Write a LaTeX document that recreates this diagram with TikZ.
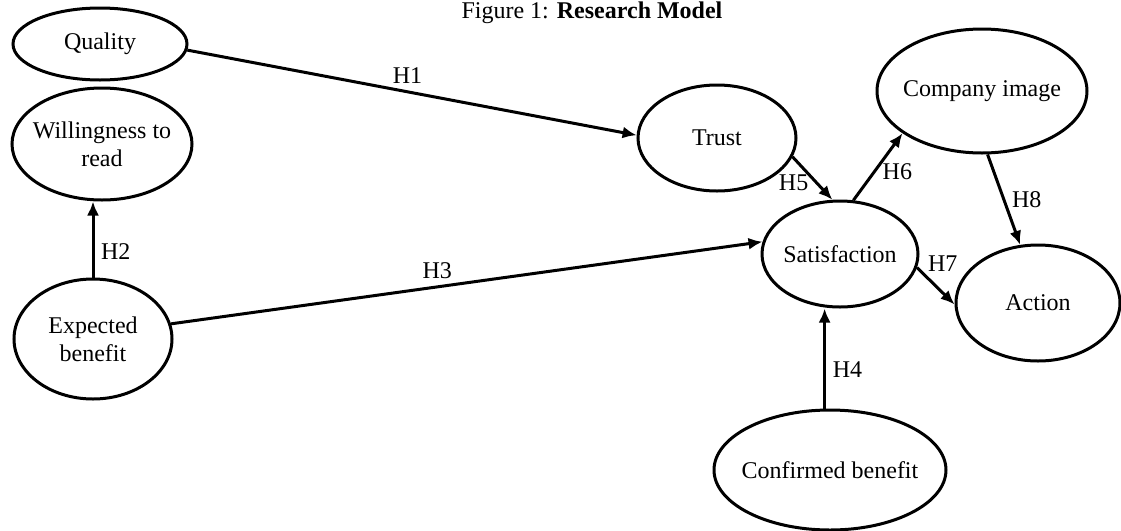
\documentclass[tikz,border=0pt]{standalone}
\usepackage{fontspec}
\setmainfont{Liberation Serif}
\usetikzlibrary{arrows.meta,shapes}
\tikzstyle{every node}=[font=\fontsize{12}{14}\selectfont]
\tikzstyle{construct}=[ellipse,draw,line width=1.5pt,inner sep=0pt,align=center]

\begin{document}
\begin{tikzpicture}[->,>={Latex[length=7pt,width=6pt]},line width=1.5pt,x=0.5pt,y=-0.5pt]
	\useasboundingbox (0,0) rectangle (1121,531);
	\node[anchor=base] (title) at (592,18) {Figure 1: \textbf{Research Model}};

	\node[construct,minimum width=87pt,minimum height=36pt] (qual) at (100,44) {Quality};
	\node[construct,minimum width=90pt,minimum height=56pt,inner xsep=-3pt] (will) at (102,144) {Willingness to\\read};
	\node[construct,minimum width=79pt,minimum height=60pt] (expb) at (93,339) {Expected\\benefit};
	\node[construct,minimum width=79pt,minimum height=53pt] (trust) at (717,138) {Trust};
	\node[construct,minimum width=105pt,minimum height=62pt,inner xsep=-3pt] (comp) at (982,91) {Company image};
	\node[construct,minimum width=78pt,minimum height=53pt,inner xsep=-1.5pt] (sat) at (840,254) {Satisfaction};
	\node[construct,minimum width=82pt,minimum height=58pt] (act) at (1038,303) {Action};
	\node[construct,minimum width=116pt,minimum height=60pt,inner xsep=-4pt] (conf) at (830,470) {Confirmed benefit};

	\path
		(qual.-4)		edge	node[above,pos=0.49]{H1}	(trust.178)
		(expb.north)	edge	node[right,pos=0.34]{H2}	(expb.north |- will.south)
		(expb.11.6)		edge	node[above,pos=0.45]{H3}	(sat.171.7)
		(conf.95)		edge	node[right,pos=0.39]{H4}	(conf.95 |- sat.south)
		(trust.-14.6)	edge	node[left,pos=0.6]{H5}		(sat.98.6)
		(sat.76.5)		edge	node[right,pos=0.43]{H6}	(comp.208)
		(sat.-10)		edge	node[anchor=south west,pos=0.2,inner sep=1pt]{H7}	(act.181)
		(comp.275.4)	edge	node[right,pos=0.5]{H8}		(act.107);
\end{tikzpicture}
\end{document}
